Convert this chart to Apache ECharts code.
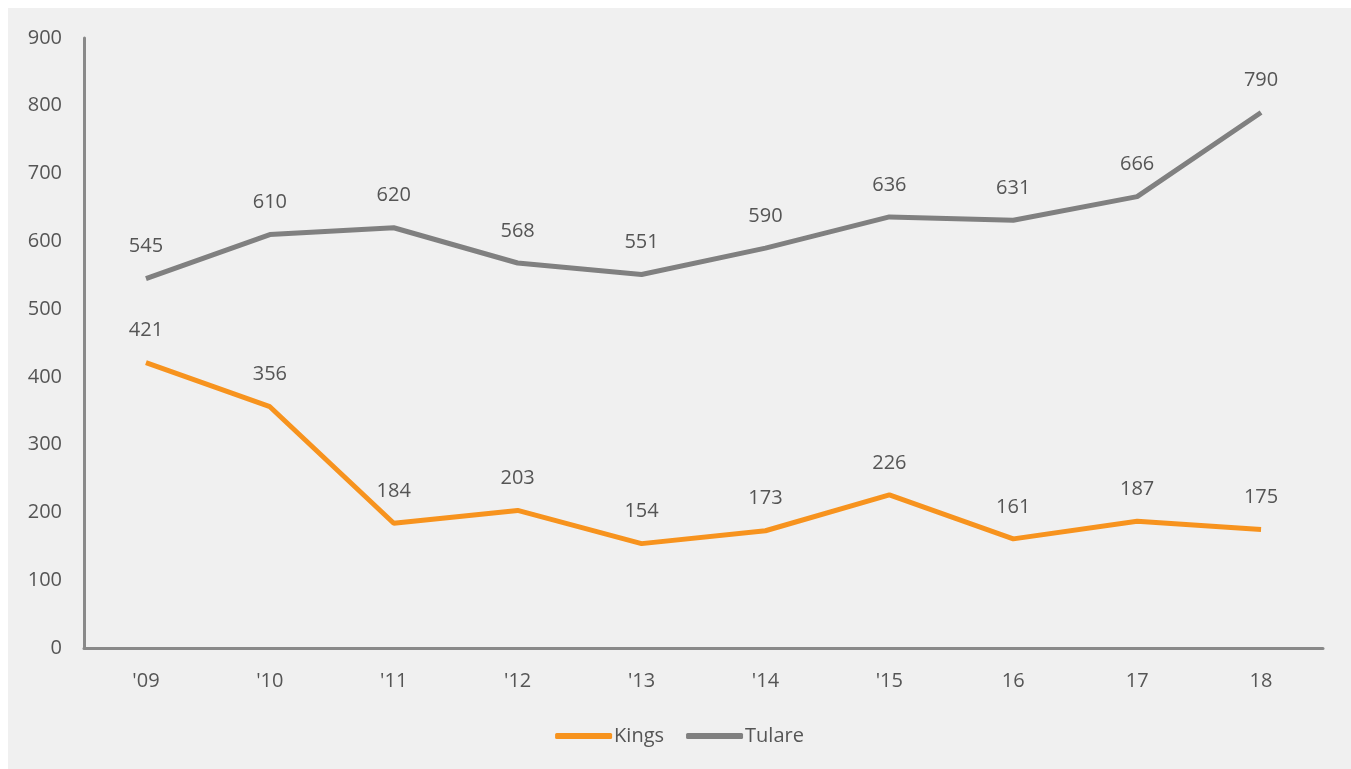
<!DOCTYPE html>
<html>
<head>
<meta charset="utf-8">
<script src="https://cdn.jsdelivr.net/npm/echarts@6/dist/echarts.min.js"></script>
<style>
    html, body { margin: 0; padding: 0; background: #fff; }
    #chart { position: absolute; left: 8px; top: 8px; width: 1343px; height: 761px; background: #f0f0f0; }
</style>
</head>
<body>
<div id="chart"></div>
<script>
    let years = ["'09", "'10", "'11", "'12", "'13", "'14", "'15", "16", "17", "18"];
    let kings = [421, 356, 184, 203, 154, 173, 226, 161, 187, 175];
    let tulare = [545, 610, 620, 568, 551, 590, 636, 631, 666, 790];

    let myChart = echarts.init(document.getElementById('chart'));
    let textColor = '#555555';
    let font = '"Open Sans", sans-serif';

    function makeSeries(name, data, color) {
        return {
            name: name,
            type: 'line',
            data: data,
            symbol: 'circle',
            symbolSize: 0,
            showSymbol: true,
            lineStyle: { color: color, width: 5 },
            itemStyle: { color: color },
            labelLayout: { hideOverlap: false },
            label: {
                show: true,
                position: 'top',
                distance: 22,
                color: textColor,
                fontSize: 20,
                fontFamily: font
            }
        };
    }

    let option = {
        animation: false,
        grid: { left: 76, right: 28, top: 30, bottom: 121 },
        legend: {
            bottom: 18,
            left: 'center',
            itemWidth: 57,
            itemHeight: 6,
            itemGap: 22,
            icon: 'roundRect',
            textStyle: { color: textColor, fontSize: 20, fontFamily: font, padding: [0, 0, 0, -3] },
            data: ['Kings', 'Tulare']
        },
        xAxis: {
            type: 'category',
            data: years,
            axisTick: { show: false },
            axisLine: { lineStyle: { color: '#898989', width: 3 } },
            axisLabel: { color: textColor, fontSize: 20, fontFamily: font, margin: 23 }
        },
        yAxis: {
            type: 'value',
            min: 0,
            max: 900,
            interval: 100,
            splitLine: { show: false },
            axisLine: { show: true, lineStyle: { color: '#898989', width: 3 } },
            axisLabel: { color: textColor, fontSize: 20, fontFamily: font, margin: 22 }
        },
        series: [
            makeSeries('Kings', kings, '#f7931e'),
            makeSeries('Tulare', tulare, '#808080')
        ]
    };
    myChart.setOption(option);
</script>
</body>
</html>
